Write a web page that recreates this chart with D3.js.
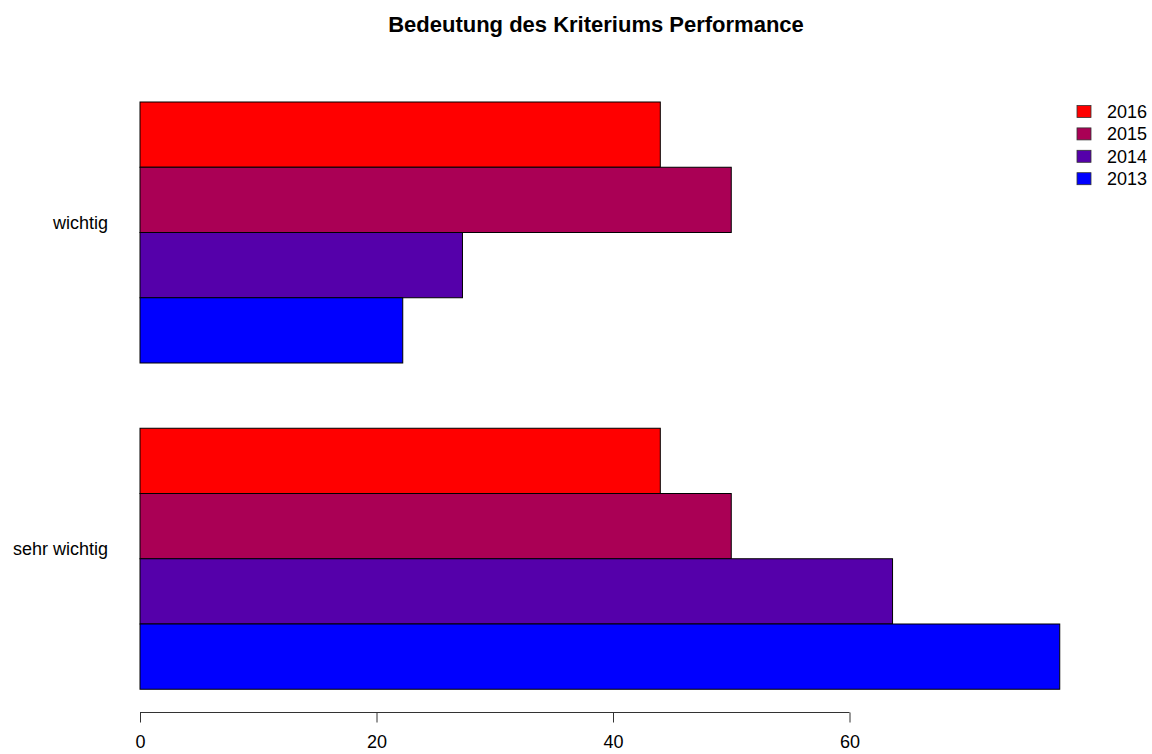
<!DOCTYPE html>
<html>
<head>
<meta charset="utf-8">
<script src="https://cdn.jsdelivr.net/npm/d3@7"></script>
<style>
  html, body { margin: 0; padding: 0; background: #fff; }
  svg { display: block; font-family: "Liberation Sans", Arial, Helvetica, sans-serif; }
</style>
</head>
<body>
<svg id="chart" width="1152" height="754"></svg>
<script>
// ---- data ----
const categories = ["wichtig", "sehr wichtig"];
const years = ["2016", "2015", "2014", "2013"];
const values2016 = [44.0, 44.0];
const values2015 = [50.0, 50.0];
const values2014 = [27.27, 63.64];
const values2013 = [22.22, 77.78];
const seriesValues = [values2016, values2015, values2014, values2013];
const colors = ["#FF0000", "#AA0055", "#5500AA", "#0000FF"];
const tickValues = [0, 20, 40, 60];
const title = "Bedeutung des Kriteriums Performance";

// ---- layout ----
const svg = d3.select("#chart");
const x = d3.scaleLinear().domain([0, 80]).range([140, 140 + 80 * 11.825]);
const yOuter = d3.scaleBand().domain(categories).range([102, 689.25]).paddingInner(0.2).paddingOuter(0);
const yInner = d3.scaleBand().domain(years).range([0, yOuter.bandwidth()]).padding(0);

// title
svg.append("text")
  .attr("x", 596).attr("y", 32)
  .attr("text-anchor", "middle")
  .attr("font-weight", "bold")
  .attr("font-size", 22)
  .text(title);

// bars
const rows = [];
categories.forEach((c, ci) => {
  years.forEach((yr, yi) => {
    rows.push({ cat: c, year: yr, value: seriesValues[yi][ci], color: colors[yi] });
  });
});

svg.append("g").selectAll("rect")
  .data(rows)
  .join("rect")
  .attr("x", x(0))
  .attr("y", d => yOuter(d.cat) + yInner(d.year))
  .attr("width", d => x(d.value) - x(0))
  .attr("height", yInner.bandwidth())
  .attr("fill", d => d.color)
  .attr("stroke", "#000")
  .attr("stroke-width", 1);

// category labels
svg.append("g").selectAll("text")
  .data(categories)
  .join("text")
  .attr("x", 108)
  .attr("y", d => yOuter(d) + yOuter.bandwidth() / 2 - 3.5)
  .attr("text-anchor", "end")
  .attr("font-size", 18)
  .text(d => d);

// x axis
const axisG = svg.append("g")
  .attr("transform", "translate(0,712.5)")
  .call(d3.axisBottom(x).tickValues(tickValues).tickSize(10).tickPadding(13).tickSizeOuter(0));
axisG.select(".domain")
  .attr("d", `M${x(0)},0H${x(60)}`)
  .attr("stroke", "#333");
axisG.selectAll(".tick line").attr("stroke", "#333");
axisG.selectAll(".tick text")
  .attr("font-size", 18)
  .attr("font-family", "Liberation Sans, Arial, sans-serif")
  .attr("fill", "#000");

// legend
const legend = svg.append("g");
years.forEach((yr, i) => {
  const cy = 111.5 + i * 22.4;
  legend.append("rect")
    .attr("x", 1077).attr("y", cy - 6)
    .attr("width", 14).attr("height", 12)
    .attr("fill", colors[i])
    .attr("stroke", "#333").attr("stroke-width", 0.8);
  legend.append("text")
    .attr("x", 1107).attr("y", cy + 6.5)
    .attr("font-size", 18)
    .text(yr);
});
</script>
</body>
</html>
